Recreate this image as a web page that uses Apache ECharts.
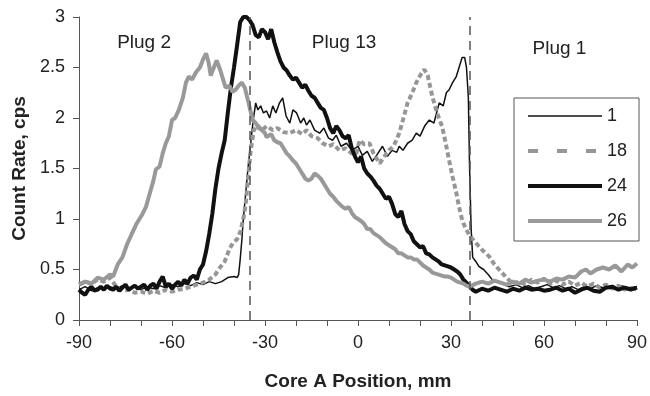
<!DOCTYPE html>
<html><head><meta charset="utf-8">
<script src="https://cdn.jsdelivr.net/npm/echarts@6/dist/echarts.min.js"></script>
<style>html,body{margin:0;padding:0;background:#fff}#c{width:650px;height:396px}</style>
</head><body><div id="c"></div>
<script>
const seriesNames = ['1','18','24','26'];
const xTicks = [-90,-60,-30,0,30,60,90];
const plugBounds = [-35, 36];
const plugLabels = [['Plug 2',-69,2.74],['Plug 13',-4.5,2.74],['Plug 1',65,2.69]];

const s1 = [[-90,0.30],[-88,0.33],[-86,0.29],[-84,0.32],[-82,0.30],[-80,0.33],[-78,0.31],[-76,0.34],[-74,0.31],[-72,0.33],[-70,0.30],[-68,0.33],[-66,0.31],[-64,0.34],[-62,0.32],[-60,0.35],[-58,0.33],[-56,0.36],[-54,0.34],[-52,0.37],[-50,0.35],[-48,0.38],[-46,0.36],[-44,0.38],[-42,0.42],[-40,0.43],[-39,0.42],[-38.5,0.45],[-38,0.6],[-37.5,0.78],[-37,1.0],[-36.2,1.26],[-35.5,1.5],[-34.6,1.75],[-33.8,1.98],[-33,2.15],[-32.3,2.08],[-31.4,2.12],[-30.5,2.05],[-29.5,2.07],[-28.5,2.0],[-27.5,2.12],[-26.5,2.05],[-25.3,2.15],[-24.3,2.2],[-23.2,2.02],[-22,1.95],[-21,2.08],[-19.8,2.05],[-18.5,1.95],[-17.5,2.0],[-16.6,1.93],[-15.5,1.98],[-14,1.88],[-12.4,1.85],[-11,1.9],[-9.5,1.8],[-8.2,1.78],[-7,1.83],[-5.5,1.72],[-3.7,1.75],[-2,1.68],[0,1.72],[1.4,1.63],[3,1.67],[4.6,1.57],[6,1.63],[7.9,1.72],[9.5,1.62],[11,1.68],[12.5,1.66],[13.3,1.72],[14.5,1.68],[16,1.75],[17.5,1.78],[18.8,1.85],[20,1.82],[21.5,1.92],[23,1.98],[24.5,1.95],[26.2,2.15],[27.5,2.12],[28.5,2.25],[29.4,2.28],[30.5,2.35],[31.7,2.41],[32.6,2.5],[33.6,2.6],[34.4,2.6],[35,2.5],[35.6,2.2],[36,1.5],[36.5,0.9],[37,0.62],[38,0.58],[39,0.53],[40.5,0.5],[42,0.45],[43.3,0.4],[45,0.38],[47,0.35],[48.8,0.33],[51,0.35],[53,0.32],[55,0.34],[57,0.31],[59,0.33],[61,0.35],[63,0.32],[65,0.34],[67,0.31],[69,0.33],[71,0.3],[73,0.33],[75,0.31],[77,0.34],[79,0.32],[81,0.33],[83,0.31],[85,0.34],[87,0.32],[90,0.33]];

const s18 = [[-90,0.35],[-88,0.38],[-86,0.36],[-84,0.4],[-82,0.38],[-80,0.42],[-78,0.33],[-76,0.29],[-74,0.3],[-72,0.27],[-70,0.28],[-68,0.26],[-66,0.29],[-64,0.27],[-62,0.3],[-60,0.28],[-58,0.3],[-56,0.31],[-54,0.33],[-52,0.35],[-50,0.37],[-48,0.4],[-46,0.45],[-45,0.5],[-43,0.58],[-41.5,0.7],[-40.4,0.76],[-39,0.8],[-38,0.87],[-37,1.0],[-36.2,1.15],[-35.5,1.4],[-34.6,1.68],[-33.6,1.88],[-32.5,1.93],[-31,1.88],[-29.5,1.92],[-27.5,1.88],[-26,1.9],[-24,1.86],[-22,1.85],[-20,1.88],[-18,1.84],[-16.6,1.88],[-15,1.82],[-13,1.8],[-11.4,1.75],[-9.5,1.72],[-8,1.74],[-6,1.68],[-4,1.7],[-2,1.65],[-0.5,1.65],[0.5,1.78],[2,1.74],[3.7,1.75],[5,1.65],[7,1.55],[8.5,1.62],[10,1.68],[11.5,1.72],[13.3,1.85],[14.5,1.98],[16,2.15],[17.5,2.25],[18.8,2.35],[20,2.42],[21.4,2.48],[22.5,2.42],[24,2.21],[25.5,2.05],[27.2,1.91],[28.3,1.75],[29.4,1.58],[30.5,1.42],[31.7,1.26],[32.6,1.12],[33.6,0.99],[34.8,0.9],[36,0.84],[37.5,0.78],[39,0.73],[40.5,0.68],[42.3,0.63],[44,0.55],[45.5,0.5],[47,0.45],[48.5,0.4],[50,0.36],[52,0.38],[54,0.35],[56,0.4],[58,0.37],[60,0.41],[62,0.36],[64,0.39],[66,0.35],[68,0.38],[70,0.34],[72,0.37],[74,0.33],[76,0.36],[78,0.32],[80,0.35],[82,0.31],[84,0.34],[86,0.3],[88,0.32],[90,0.3]];

const s24 = [[-90,0.3],[-89,0.27],[-88,0.25],[-87,0.3],[-86,0.33],[-85,0.29],[-84,0.3],[-83,0.33],[-82,0.3],[-81,0.34],[-80,0.31],[-79,0.3],[-78,0.33],[-77,0.29],[-76,0.32],[-75,0.35],[-74,0.3],[-73,0.32],[-72,0.34],[-71,0.31],[-70,0.33],[-69,0.35],[-68,0.3],[-67,0.34],[-66,0.36],[-65,0.31],[-64,0.38],[-63,0.43],[-62,0.33],[-61,0.36],[-60,0.31],[-59,0.35],[-58,0.38],[-57,0.34],[-56,0.4],[-55,0.36],[-54,0.42],[-53,0.44],[-52,0.4],[-51,0.5],[-50,0.55],[-49,0.68],[-48,0.85],[-47,1.05],[-46,1.3],[-45,1.5],[-44,1.65],[-43,1.78],[-42,2.05],[-41,2.3],[-40,2.5],[-39,2.72],[-38.5,2.73],[-38,2.95],[-37,3.0],[-36,3.0],[-35,2.97],[-34,2.92],[-33,2.82],[-32,2.8],[-31,2.88],[-30,2.85],[-29,2.78],[-28,2.88],[-27,2.75],[-26,2.65],[-25,2.56],[-24,2.5],[-23,2.47],[-22,2.42],[-21,2.38],[-20,2.4],[-19,2.35],[-18,2.3],[-17,2.33],[-16,2.27],[-15,2.22],[-14,2.2],[-13,2.15],[-12,2.1],[-11,2.08],[-10,2.0],[-9,1.9],[-8,1.85],[-7,1.92],[-6,1.88],[-5,1.82],[-4,1.8],[-3,1.83],[-2,1.7],[-1,1.62],[0,1.56],[1,1.62],[2,1.5],[3,1.45],[4,1.42],[5,1.38],[6,1.33],[7,1.3],[8,1.25],[9,1.2],[10,1.22],[11,1.15],[12,1.05],[13,1.02],[14,1.08],[15,0.95],[16,0.88],[17,0.85],[18,0.78],[19,0.75],[20,0.72],[21,0.73],[22,0.66],[23,0.65],[24,0.62],[25,0.6],[26,0.58],[27,0.55],[28,0.54],[29,0.53],[30,0.52],[31,0.5],[32,0.48],[33,0.45],[34,0.4],[35,0.37],[36,0.33],[37,0.3],[38,0.28],[40,0.31],[42,0.29],[44,0.32],[46,0.3],[48,0.28],[50,0.31],[52,0.29],[54,0.32],[56,0.3],[58,0.31],[60,0.29],[62,0.3],[64,0.32],[66,0.29],[68,0.31],[70,0.27],[72,0.3],[74,0.32],[76,0.29],[78,0.28],[80,0.32],[82,0.33],[84,0.3],[86,0.32],[88,0.3],[90,0.32]];

const s26 = [[-90,0.35],[-88,0.38],[-86,0.36],[-84,0.42],[-82,0.4],[-80,0.45],[-79,0.43],[-77.5,0.55],[-76,0.62],[-74.5,0.75],[-73,0.85],[-71.5,0.95],[-70.5,1.0],[-69.5,1.05],[-68.4,1.12],[-67.2,1.25],[-66,1.38],[-65.2,1.49],[-64,1.52],[-63,1.65],[-62,1.75],[-61,1.82],[-60,1.98],[-59,2.0],[-57.8,2.08],[-56.5,2.2],[-55.5,2.35],[-54.6,2.41],[-53.5,2.38],[-52.3,2.45],[-51,2.5],[-50,2.58],[-49,2.64],[-48.2,2.55],[-47.5,2.42],[-46.5,2.5],[-45.6,2.57],[-44.5,2.48],[-43.5,2.38],[-42.7,2.3],[-41.5,2.32],[-40.5,2.26],[-39.5,2.28],[-38.5,2.32],[-37.5,2.35],[-36.5,2.3],[-35.3,2.15],[-34,1.98],[-33,1.95],[-32,1.9],[-31,1.88],[-30,1.85],[-29.5,1.81],[-28,1.84],[-27,1.78],[-26,1.76],[-25,1.75],[-24,1.7],[-23,1.65],[-22,1.62],[-21,1.58],[-20,1.55],[-19,1.5],[-18,1.45],[-17,1.4],[-16,1.38],[-15,1.4],[-14,1.45],[-13,1.43],[-12,1.4],[-11,1.35],[-10,1.3],[-9,1.25],[-8,1.22],[-7,1.18],[-6,1.15],[-5,1.12],[-4,1.1],[-3,1.12],[-2,1.06],[-1,1.02],[0,1.0],[1,0.98],[2,0.95],[3,0.9],[4,0.9],[5,0.86],[6,0.84],[7,0.82],[8,0.79],[9,0.76],[10,0.74],[11,0.72],[12,0.7],[13,0.66],[14,0.66],[15,0.64],[16,0.62],[17,0.62],[18,0.6],[19,0.6],[20,0.57],[21,0.54],[22,0.52],[23,0.5],[24,0.47],[25,0.46],[26,0.45],[27,0.44],[28,0.43],[29,0.43],[30,0.42],[31,0.4],[32,0.38],[33,0.37],[34,0.36],[35,0.34],[36,0.33],[38,0.36],[40,0.38],[42,0.36],[44,0.39],[46,0.37],[48,0.35],[50,0.38],[52,0.36],[54,0.4],[56,0.37],[58,0.39],[60,0.4],[62,0.38],[64,0.41],[66,0.4],[68,0.43],[70,0.42],[72,0.48],[73.5,0.5],[75,0.46],[77,0.5],[79,0.52],[81,0.5],[83,0.54],[85,0.48],[87,0.55],[88.5,0.52],[90,0.56]];

const chart = echarts.init(document.getElementById('c'));
const font = 'Liberation Sans, Arial, sans-serif';
const axisColor = '#555';
chart.setOption({
  animation: false,
  backgroundColor: '#fff',
  grid: {left: 79, right: 12, top: 17, bottom: 76},
  legend: {
    show: true,
    orient: 'vertical', left: 514, top: 98,
    itemWidth: 74, itemHeight: 14, itemGap: 15,
    padding: [8, 12, 10, 12],
    borderColor: '#555', borderWidth: 1,
    itemStyle: {opacity: 0},
    textStyle: {fontFamily: font, fontSize: 18, color: '#222', lineHeight: 20},
    data: [
      {name: seriesNames[0], lineStyle: {width: 1.5}},
      {name: seriesNames[1], lineStyle: {width: 4, type: [10, 19]}},
      {name: seriesNames[2], lineStyle: {width: 4}},
      {name: seriesNames[3], lineStyle: {width: 4}}
    ]
  },
  xAxis: {
    type: 'value', min: -90, max: 90, interval: 30,
    axisLine: {onZero: false, lineStyle: {color: axisColor, width: 1}},
    axisTick: {show: true, length: 6, inside: false, lineStyle: {color: axisColor}},
    minorTick: {show: true, splitNumber: 3, length: 6, lineStyle: {color: axisColor}},
    splitLine: {show: false},
    axisLabel: {fontFamily: font, fontSize: 18, color: '#222', margin: 14},
    name: 'Core A Position, mm', nameLocation: 'middle', nameGap: 52,
    nameTextStyle: {fontFamily: font, fontSize: 19, fontWeight: 'bold', color: '#222'}
  },
  yAxis: {
    type: 'value', min: 0, max: 3, interval: 0.5,
    axisLine: {show: true, onZero: false, lineStyle: {color: axisColor, width: 1}},
    axisTick: {show: true, length: 6, lineStyle: {color: axisColor}},
    splitLine: {show: false},
    axisLabel: {fontFamily: font, fontSize: 18, color: '#222', margin: 14},
    name: 'Count Rate, cps', nameLocation: 'middle', nameGap: 48,
    nameTextStyle: {fontFamily: font, fontSize: 19, fontWeight: 'bold', color: '#222'}
  },
  series: [
    {name: seriesNames[0], type: 'line', data: s1, showSymbol: false, symbol: 'none',
     lineStyle: {color: '#111', width: 1.5}, itemStyle: {color: '#111'},
     markLine: {silent: true, symbol: ['none','none'], label: {show: false},
       lineStyle: {color: '#555', type: [9, 6], width: 1.5},
       data: plugBounds.map(b => ({xAxis: b}))}},
    {name: seriesNames[1], type: 'line', data: s18, showSymbol: false, symbol: 'none',
     lineStyle: {color: '#969696', width: 4, type: [5, 3]}, itemStyle: {color: '#969696'}},
    {name: seriesNames[2], type: 'line', data: s24, showSymbol: false, symbol: 'none',
     lineStyle: {color: '#111', width: 4}, itemStyle: {color: '#111'}},
    {name: seriesNames[3], type: 'line', data: s26, showSymbol: false, symbol: 'none',
     lineStyle: {color: '#999', width: 4}, itemStyle: {color: '#999'}}
  ]
});
const g = plugLabels.map(([t, x, y]) => {
  const p = chart.convertToPixel({gridIndex: 0}, [x, y]);
  return {type: 'text', x: p[0], y: p[1],
    style: {text: t, fontFamily: font, fontSize: 19, fill: '#222', textAlign: 'center', textVerticalAlign: 'middle'}};
});
chart.setOption({graphic: g});
</script></body></html>
